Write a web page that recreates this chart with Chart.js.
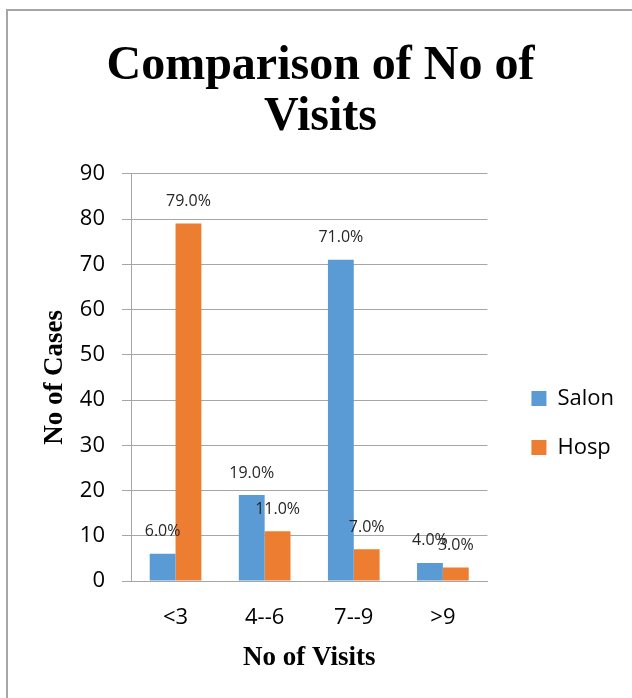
<!DOCTYPE html>
<html>
<head>
<title>Comparison of No of Visits</title>
<script src="https://cdn.jsdelivr.net/npm/chart.js"></script>
<style>
    html, body {
        margin: 0;
        background: #fff;
        overflow: hidden;
    }

    #frame {
        position: absolute;
        left: 6px;
        top: 9px;
        width: 660px;
        height: 720px;
        border: 2px solid #a6a6a6;
    }

    #wrap {
        position: absolute;
        left: 0;
        top: 0;
        width: 632px;
        height: 698px;
    }
</style>
</head>
<body>
<div id="frame"></div>
<div id="wrap">
    <canvas id="visitsChart" width="632" height="698"></canvas>
</div>

<script>
    // chart data
    const categories = ['<3', '4--6', '7--9', '>9'];
    const salonCases = [6, 19, 71, 4];
    const hospCases = [79, 11, 7, 3];
    const yMin = 0;
    const yMax = 90;
    const yStep = 10;

    const serif = '"Liberation Serif", "Times New Roman", serif';
    Chart.defaults.font.family = '"Open Sans", sans-serif';

    // percentage labels above each bar
    const barLabels = {
        id: 'barLabels',
        afterDatasetsDraw(chart) {
            const ctx = chart.ctx;
            ctx.save();
            ctx.font = '16px "Open Sans"';
            ctx.fillStyle = '#262626';
            ctx.textAlign = 'center';
            ctx.textBaseline = 'middle';
            chart.data.datasets.forEach((ds, i) => {
                chart.getDatasetMeta(i).data.forEach((bar, j) => {
                    ctx.fillText(ds.data[j].toFixed(1) + '%', bar.x, bar.y - 22);
                });
            });
            ctx.restore();
        }
    };

    // nudge legend and title into the places Excel put them
    const boxShift = {
        id: 'boxShift',
        afterLayout(chart) {
            const lg = chart.legend;
            lg.left += 17;
            lg.right += 17;
            lg.top += 74;
            lg.bottom += 74;
            const tb = chart.titleBlock;
            tb.left += 17;
            tb.right += 17;
        }
    };

    const ctx = document.getElementById('visitsChart').getContext('2d');
    const visitsChart = new Chart(ctx, {
        type: 'bar',
        data: {
            labels: categories,
            datasets: [{
                label: 'Salon',
                data: salonCases,
                backgroundColor: '#5b9bd5',
                categoryPercentage: 0.58,
                barPercentage: 1.0
            }, {
                label: 'Hosp',
                data: hospCases,
                backgroundColor: '#ed7d31',
                categoryPercentage: 0.58,
                barPercentage: 1.0
            }]
        },
        options: {
            responsive: false,
            animation: false,
            devicePixelRatio: 1,
            layout: {
                padding: { top: 0, left: 0, right: 25, bottom: 0 }
            },
            plugins: {
                title: {
                    display: true,
                    text: ['Comparison of No of', 'Visits'],
                    color: '#000',
                    font: { family: serif, size: 48, weight: 'bold', lineHeight: 1.06 },
                    padding: { top: 41, bottom: 31 }
                },
                legend: {
                    position: 'right',
                    labels: {
                        boxWidth: 15,
                        boxHeight: 15,
                        padding: 27,
                        color: '#000',
                        font: { size: 22 }
                    }
                },
                tooltip: { enabled: false }
            },
            scales: {
                x: {
                    grid: { display: false },
                    border: { display: true, color: '#a6a6a6', width: 1 },
                    ticks: {
                        color: '#000',
                        font: { size: 22, lineHeight: 1.2 },
                        padding: 16
                    },
                    title: {
                        display: true,
                        text: 'No of Visits',
                        color: '#000',
                        font: { family: serif, size: 27, weight: 'bold', lineHeight: 1.2 },
                        padding: { top: 0, bottom: 24 }
                    },
                    afterFit(scale) { scale.height = 117; }
                },
                y: {
                    min: yMin,
                    max: yMax,
                    ticks: {
                        stepSize: yStep,
                        color: '#000',
                        font: { size: 22 },
                        padding: 17
                    },
                    grid: { color: '#a6a6a6', tickLength: 9 },
                    border: { color: '#a6a6a6' },
                    title: {
                        display: true,
                        text: 'No of Cases',
                        color: '#000',
                        font: { family: serif, size: 27, weight: 'bold', lineHeight: 1.2 },
                        padding: { top: 39, bottom: 0 }
                    },
                    afterFit(scale) { scale.width = 131; }
                }
            }
        },
        plugins: [barLabels, boxShift]
    });
</script>
</body>
</html>
